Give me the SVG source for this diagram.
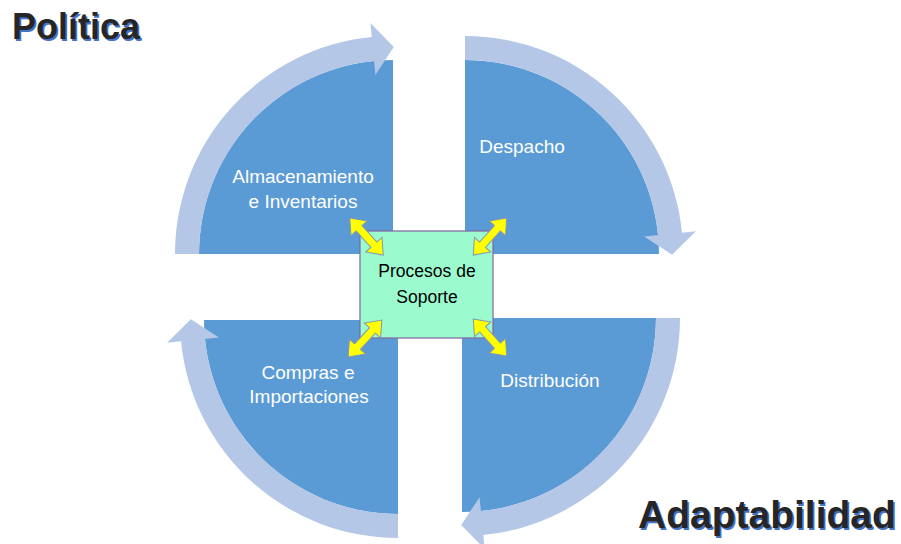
<svg xmlns="http://www.w3.org/2000/svg" width="901" height="544" viewBox="0 0 901 544">
<defs>
<style>
.pie{fill:#5B9BD5}
.cyc{fill:#B4C7E7}
.lbl{font-family:"Liberation Sans",Arial,sans-serif;font-size:19px;fill:#FFFFFF;text-anchor:middle}
.ctr{font-family:"Liberation Sans",Arial,sans-serif;font-size:17.5px;fill:#000000;text-anchor:middle}
.title{font-family:"Liberation Sans",Arial,sans-serif;font-weight:bold}
.tsh{fill:#4472C4}
.tfg{fill:#262626}
.ya{fill:#FFFF00;stroke:#8497B0;stroke-width:1}
</style>
<path id="dbl" d="M-25,0 L-11,-11 L-11,-4 L11,-4 L11,-11 L25,0 L11,11 L11,4 L-11,4 L-11,11 Z"/>
</defs>
<rect width="901" height="544" fill="#FFFFFF"/>

<g id="almacenamiento">
<path class="pie" d="M393,254 L199,254 A194,194 0 0 1 393,60 Z"/>
<text class="lbl" x="303" y="183">Almacenamiento</text>
<text class="lbl" x="303" y="208">e Inventarios</text>
</g>
<g id="despacho">
<path class="pie" d="M465,254 L465,60 A194,194 0 0 1 659,254 Z"/>
<text class="lbl" x="522" y="153">Despacho</text>
</g>
<g id="distribucion">
<path class="pie" d="M462,318 L656,318 A194,194 0 0 1 462,512 Z"/>
<text class="lbl" x="550" y="387">Distribución</text>
</g>
<g id="compras">
<path class="pie" d="M398,320 L398,514 A194,194 0 0 1 204,320 Z"/>
<text class="lbl" x="308" y="379">Compras e</text>
<text class="lbl" x="309" y="403">Importaciones</text>
</g>

<g id="cycle-arrows">
<path class="cyc" d="M175,254 A218,218 0 0 1 371.73,37.04 L370.36,23.11 L393.80,46.93 L375.44,74.86 L374.07,60.93 A194,194 0 0 0 199,254 Z"/>
<path class="cyc" d="M465,36 A218,218 0 0 1 681.96,232.73 L695.89,231.36 L672.07,254.80 L644.14,236.44 L658.07,235.07 A194,194 0 0 0 465,60 Z"/>
<path class="cyc" d="M680,318 A218,218 0 0 1 483.27,534.96 L484.64,548.89 L461.20,525.07 L479.56,497.14 L480.93,511.07 A194,194 0 0 0 656,318 Z"/>
<path class="cyc" d="M398,538 A218,218 0 0 1 181.04,341.27 L167.11,342.64 L190.93,319.20 L218.86,337.56 L204.93,338.93 A194,194 0 0 0 398,514 Z"/>
</g>

<g id="soporte">
<rect x="360" y="231" width="133" height="107" fill="#9BFBCE" stroke="#8064A2" stroke-width="1.2"/>
<text class="ctr" x="427" y="277">Procesos de</text>
<text class="ctr" x="427" y="303">Soporte</text>
</g>

<g id="connectors">
<use href="#dbl" class="ya" transform="translate(366.5,236.5) rotate(48)"/>
<use href="#dbl" class="ya" transform="translate(490,236.5) rotate(-48)"/>
<use href="#dbl" class="ya" transform="translate(365,338.5) rotate(-47.5)"/>
<use href="#dbl" class="ya" transform="translate(490,337.5) rotate(48)"/>
</g>

<g id="titulo-politica">
<text class="title tsh" x="13.5" y="40.5" font-size="36">Política</text>
<text class="title tfg" x="12" y="39" font-size="36">Política</text>
</g>
<g id="titulo-adaptabilidad">
<text class="title tsh" x="639.5" y="529.5" font-size="39">Adaptabilidad</text>
<text class="title tfg" x="638" y="528" font-size="39">Adaptabilidad</text>
</g>
</svg>
